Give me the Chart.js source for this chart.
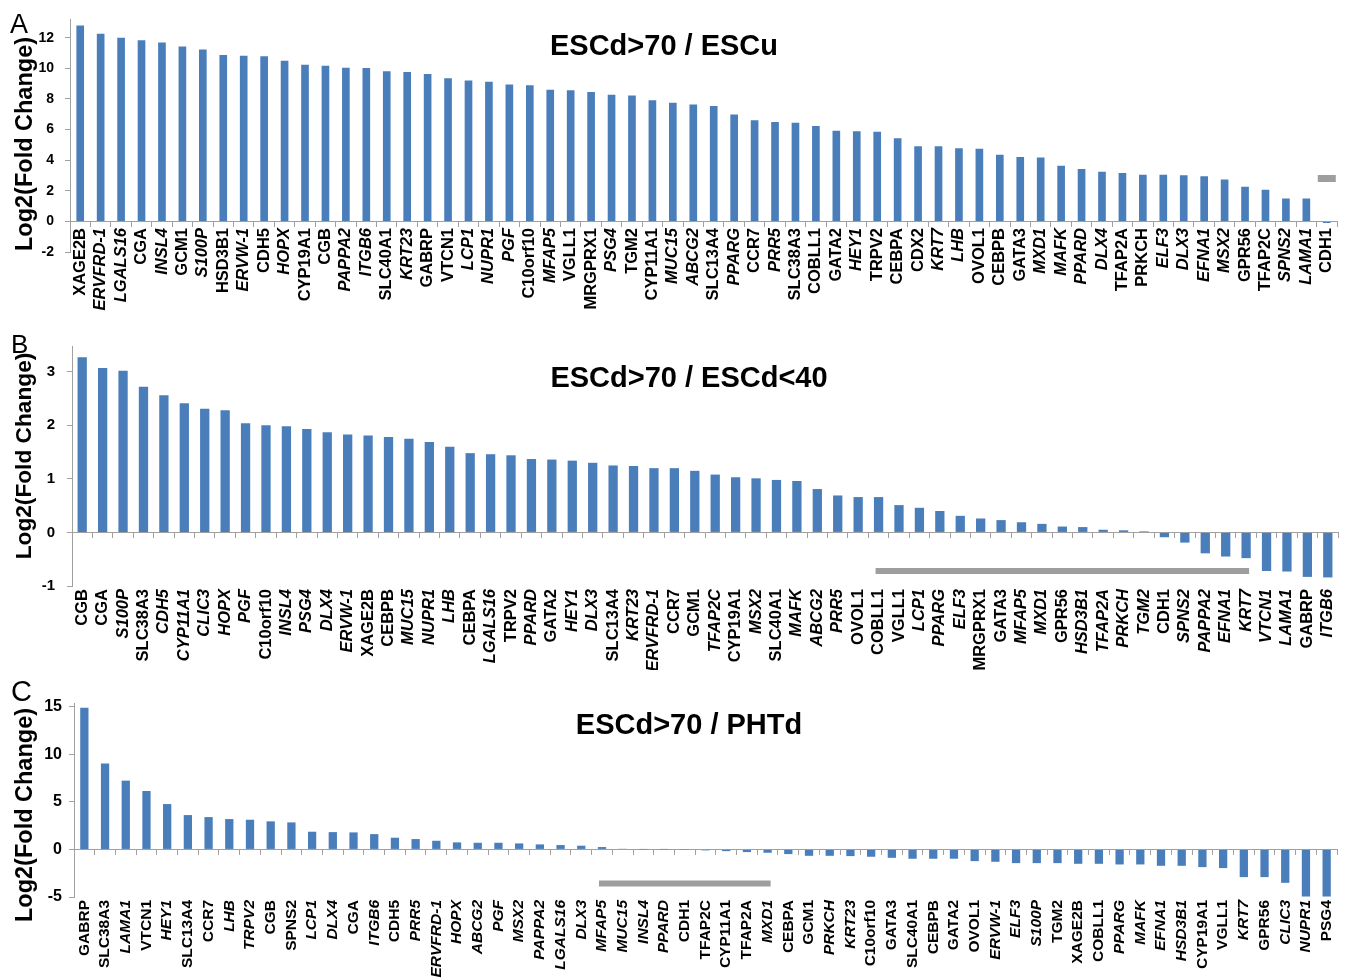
<!DOCTYPE html>
<html><head><meta charset="utf-8">
<script src="https://cdn.jsdelivr.net/npm/chart.js@4.4.1/dist/chart.umd.min.js"></script>
<style>
html,body{margin:0;padding:0;background:#fff;width:1353px;height:980px;overflow:hidden;}
canvas{position:absolute;left:0;}
#cA{top:0}#cB{top:325px}#cC{top:670px}
</style></head><body>
<canvas id="cA" width="1353" height="330"></canvas>
<canvas id="cB" width="1353" height="345"></canvas>
<canvas id="cC" width="1353" height="310"></canvas>
<script>
// ---------- Panel A: ESCd>70 / ESCu ----------
const genesA = ["XAGE2B","ERVFRD-1","LGALS16","CGA","INSL4","GCM1","S100P","HSD3B1","ERVW-1","CDH5","HOPX","CYP19A1","CGB","PAPPA2","ITGB6","SLC40A1","KRT23","GABRP","VTCN1","LCP1","NUPR1","PGF","C10orf10","MFAP5","VGLL1","MRGPRX1","PSG4","TGM2","CYP11A1","MUC15","ABCG2","SLC13A4","PPARG","CCR7","PRR5","SLC38A3","COBLL1","GATA2","HEY1","TRPV2","CEBPA","CDX2","KRT7","LHB","OVOL1","CEBPB","GATA3","MXD1","MAFK","PPARD","DLX4","TFAP2A","PRKCH","ELF3","DLX3","EFNA1","MSX2","GPR56","TFAP2C","SPNS2","LAMA1","CDH1"];
const valuesA = [12.8,12.27,12.0,11.83,11.69,11.43,11.24,10.87,10.82,10.8,10.49,10.23,10.17,10.04,10.02,9.81,9.77,9.64,9.35,9.2,9.12,8.95,8.89,8.61,8.57,8.46,8.28,8.23,7.92,7.75,7.64,7.54,6.99,6.61,6.49,6.44,6.23,5.92,5.89,5.85,5.43,4.91,4.91,4.78,4.74,4.36,4.21,4.17,3.64,3.43,3.24,3.16,3.05,3.05,3.01,2.95,2.74,2.26,2.07,1.5,1.5,-0.1];
const italicA = ["ERVFRD-1","LGALS16","INSL4","S100P","ERVW-1","HOPX","PAPPA2","ITGB6","KRT23","LCP1","NUPR1","PGF","MFAP5","PSG4","MUC15","ABCG2","PPARG","PRR5","HEY1","KRT7","LHB","MXD1","MAFK","PPARD","DLX4","ELF3","DLX3","EFNA1","MSX2","SPNS2","LAMA1"];
const yTicksA = [-2,0,2,4,6,8,10,12];
const markA = {gene:"CDH1", value:2.8};

// ---------- Panel B: ESCd>70 / ESCd<40 ----------
const genesB = ["CGB","CGA","S100P","SLC38A3","CDH5","CYP11A1","CLIC3","HOPX","PGF","C10orf10","INSL4","PSG4","DLX4","ERVW-1","XAGE2B","CEBPB","MUC15","NUPR1","LHB","CEBPA","LGALS16","TRPV2","PPARD","GATA2","HEY1","DLX3","SLC13A4","KRT23","ERVFRD-1","CCR7","GCM1","TFAP2C","CYP19A1","MSX2","SLC40A1","MAFK","ABCG2","PRR5","OVOL1","COBLL1","VGLL1","LCP1","PPARG","ELF3","MRGPRX1","GATA3","MFAP5","MXD1","GPR56","HSD3B1","TFAP2A","PRKCH","TGM2","CDH1","SPNS2","PAPPA2","EFNA1","KRT7","VTCN1","LAMA1","GABRP","ITGB6"];
const valuesB = [3.27,3.07,3.02,2.72,2.56,2.41,2.31,2.28,2.04,2.0,1.98,1.93,1.87,1.83,1.81,1.78,1.75,1.69,1.60,1.48,1.46,1.44,1.37,1.36,1.34,1.30,1.25,1.24,1.20,1.20,1.15,1.08,1.03,1.01,0.98,0.96,0.81,0.69,0.66,0.66,0.51,0.46,0.40,0.31,0.26,0.23,0.19,0.16,0.11,0.10,0.05,0.04,0.02,-0.09,-0.19,-0.39,-0.45,-0.48,-0.72,-0.73,-0.83,-0.84];
const italicB = ["S100P","CDH5","CYP11A1","CLIC3","HOPX","PGF","INSL4","PSG4","DLX4","ERVW-1","MUC15","NUPR1","LHB","LGALS16","PPARD","HEY1","DLX3","KRT23","ERVFRD-1","TFAP2C","MSX2","MAFK","ABCG2","PRR5","LCP1","PPARG","ELF3","MFAP5","MXD1","HSD3B1","TFAP2A","PRKCH","TGM2","SPNS2","PAPPA2","EFNA1","KRT7","VTCN1","LAMA1","ITGB6"];
const yTicksB = [-1,0,1,2,3];
const spanB = {from:"COBLL1", to:"KRT7", value:-0.72};

// ---------- Panel C: ESCd>70 / PHTd ----------
const genesC = ["GABRP","SLC38A3","LAMA1","VTCN1","HEY1","SLC13A4","CCR7","LHB","TRPV2","CGB","SPNS2","LCP1","DLX4","CGA","ITGB6","CDH5","PRR5","ERVFRD-1","HOPX","ABCG2","PGF","MSX2","PAPPA2","LGALS16","DLX3","MFAP5","MUC15","INSL4","PPARD","CDH1","TFAP2C","CYP11A1","TFAP2A","MXD1","CEBPA","GCM1","PRKCH","KRT23","C10orf10","GATA3","SLC40A1","CEBPB","GATA2","OVOL1","ERVW-1","ELF3","S100P","TGM2","XAGE2B","COBLL1","PPARG","MAFK","EFNA1","HSD3B1","CYP19A1","VGLL1","KRT7","GPR56","CLIC3","NUPR1","PSG4"];
const valuesC = [14.9,9.02,7.23,6.14,4.77,3.61,3.40,3.19,3.12,2.95,2.84,1.86,1.82,1.79,1.61,1.23,1.09,0.91,0.74,0.70,0.70,0.63,0.53,0.46,0.39,0.25,0.07,0.01,0.01,-0.02,-0.10,-0.18,-0.28,-0.35,-0.49,-0.67,-0.67,-0.70,-0.77,-0.88,-0.98,-0.98,-0.98,-1.23,-1.30,-1.44,-1.44,-1.44,-1.51,-1.51,-1.58,-1.58,-1.72,-1.72,-1.86,-1.96,-2.91,-2.91,-3.51,-4.95,-4.95];
const italicC = ["LAMA1","HEY1","LHB","TRPV2","LCP1","DLX4","ITGB6","PRR5","ERVFRD-1","HOPX","ABCG2","PGF","MSX2","PAPPA2","LGALS16","DLX3","MFAP5","MUC15","INSL4","PPARD","MXD1","PRKCH","KRT23","ERVW-1","ELF3","S100P","PPARG","MAFK","EFNA1","HSD3B1","KRT7","CLIC3","NUPR1"];
const yTicksC = [-5,0,5,10,15];
const spanC = {from:"MFAP5", to:"MXD1", value:-3.58};

const yTitle = "Log2(Fold Change)";

// ---------- styling ----------
const BLUE = '#4a7ebb', AXIS = '#a0a0a0', GREY = '#9e9e9e';
const FONT = "'Liberation Sans', Arial, sans-serif";

const panelText = {
  id: 'panelText',
  beforeDraw(chart) {
    // let category labels extend above the bottom axis box (no clipping)
    const s = chart.scales.x;
    if (s) s._computeLabelArea = () => undefined;
  },
  afterDraw(chart, args, o) {
    const ctx = chart.ctx;
    ctx.save();
    ctx.fillStyle = '#000';
    ctx.textBaseline = 'alphabetic';
    ctx.font = `normal ${o.letterSize}px ${FONT}`;
    ctx.textAlign = 'left';
    ctx.fillText(o.letter, o.letterX, o.letterY);
    ctx.font = `bold ${o.titleSize}px ${FONT}`;
    ctx.textAlign = 'center';
    ctx.fillText(o.title, o.titleX, o.titleY);
    ctx.save();
    ctx.translate(o.yTitleX, o.yTitleY);
    ctx.rotate(-Math.PI / 2);
    ctx.font = `bold ${o.yTitleSize}px ${FONT}`;
    ctx.textAlign = 'center';
    ctx.textBaseline = 'middle';
    ctx.fillText(yTitle, 0, 0);
    ctx.restore();
    ctx.restore();
  }
};

function panel(id, p) {
  const labels = p.genes;
  const italic = new Set(p.italic);
  const datasets = [{
    type: 'bar', data: p.values, backgroundColor: BLUE, borderWidth: 0,
    categoryPercentage: 1, barPercentage: p.barPct, xAxisID: 'x', yAxisID: 'y', order: 2
  }];
  if (p.span) {
    const i0 = labels.indexOf(p.span.from), i1 = labels.indexOf(p.span.to);
    datasets.push({
      type: 'line', data: labels.map((g, i) => (i >= i0 && i <= i1) ? p.span.value : null),
      borderColor: GREY, borderWidth: 6, borderCapStyle: 'square', pointRadius: 0,
      spanGaps: false, xAxisID: 'x', yAxisID: 'y', order: 1
    });
  }
  if (p.mark) {
    datasets.push({
      type: 'line', data: labels.map(g => g === p.mark.gene ? p.mark.value : null),
      showLine: false, pointStyle: 'line', pointRadius: 9, pointBorderWidth: 7,
      pointBorderColor: GREY, pointBackgroundColor: GREY, xAxisID: 'x', yAxisID: 'y', order: 1
    });
  }
  const tickFont = (ctx) => ({
    family: FONT, size: p.labelSize, weight: 'bold',
    style: italic.has(labels[ctx.index]) ? 'italic' : 'normal'
  });
  const scales = {
    x: {
      type: 'category', position: 'bottom', offset: true,
      grid: {display: false, drawTicks: false},
      border: {display: false},
      ticks: {autoSkip: false, minRotation: 90, maxRotation: 90, padding: p.labelPad, color: '#000', font: tickFont},
      afterFit: s => { s.height = p.xHeight; }
    },
    x2: {
      type: 'category', position: {y: 0}, offset: true,
      grid: {offset: true, drawOnChartArea: false, drawTicks: true, tickLength: 5, color: AXIS},
      border: {display: true, color: AXIS, width: 1},
      ticks: {display: false},
      afterFit: s => { s.height = 0; }
    },
    y: {
      type: 'linear', position: 'left', min: p.yMin, max: p.yMax,
      afterBuildTicks: s => { s.ticks = p.yTicks.map(v => ({value: v})); },
      grid: {drawOnChartArea: false, drawTicks: true, tickLength: 5, color: AXIS},
      border: {display: true, color: AXIS, width: 1},
      ticks: {padding: p.yPad, color: '#000', font: {family: FONT, size: p.yTickSize, weight: 'bold'}},
      afterFit: s => { s.width = p.yWidth; }
    }
  };
  new Chart(document.getElementById(id), {
    type: 'bar',
    data: {labels, datasets},
    options: {
      responsive: false, animation: false, devicePixelRatio: 1,
      layout: {padding: {top: p.padTop, right: p.padRight, left: 0, bottom: 0}},
      plugins: {legend: {display: false}, tooltip: {enabled: false},
        panelText: p.text},
      scales
    },
    plugins: [panelText]
  });
}

panel('cA', {
  genes: genesA, values: valuesA, italic: italicA, yTicks: yTicksA, mark: markA,
  xHeight: 78, labelPad: -24, yMin: -2, yMax: 13.2, yWidth: 70, yPad: 11,
  yTickSize: 14, labelSize: 16.5, barPct: 0.375,
  padTop: 12, padRight: 8,
  text: {letter: 'A', letterSize: 27, letterX: 10, letterY: 33,
    title: 'ESCd>70 / ESCu', titleSize: 29, titleX: 664, titleY: 55,
    yTitleSize: 23.5, yTitleX: 26, yTitleY: 144}
});
panel('cB', {
  genes: genesB, values: valuesB, italic: italicB, yTicks: yTicksB, span: spanB,
  xHeight: 84, labelPad: 3, yMin: -1, yMax: 3.48, yWidth: 72, yPad: 12,
  yTickSize: 15, labelSize: 16.5, barPct: 0.455,
  padTop: 13, padRight: 15,
  text: {letter: 'B', letterSize: 26, letterX: 11, letterY: 28,
    title: 'ESCd>70 / ESCd<40', titleSize: 29, titleX: 689, titleY: 62,
    yTitleSize: 22.7, yTitleX: 25, yTitleY: 131}
});
panel('cC', {
  genes: genesC, values: valuesC, italic: italicC, yTicks: yTicksC, span: spanC,
  xHeight: 83, labelPad: 3, yMin: -5, yMax: 15.39, yWidth: 74, yPad: 7,
  yTickSize: 16, labelSize: 15.5, barPct: 0.40,
  padTop: 33, padRight: 16,
  text: {letter: 'C', letterSize: 29, letterX: 11, letterY: 31,
    title: 'ESCd>70 / PHTd', titleSize: 29, titleX: 689, titleY: 64,
    yTitleSize: 23.5, yTitleX: 26, yTitleY: 145}
});
</script>
</body></html>
